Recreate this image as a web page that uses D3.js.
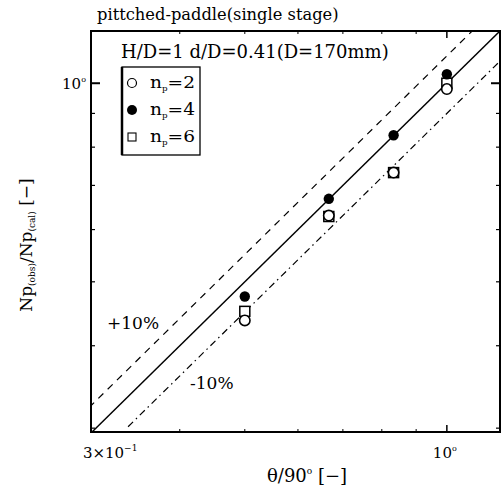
<!DOCTYPE html>
<html><head><meta charset="utf-8">
<script src="https://cdn.jsdelivr.net/npm/d3@7"></script>
<style>body{margin:0;background:#fff}svg{display:block}</style>
</head><body><div id="chart"></div>
<script>
// ---- data ----
const thetaRatio = [0.5, 0.667, 0.833, 1.0];            // θ/90°
const np2 = [0.437, 0.630, 0.732, 0.980];                // open circle
const np4 = [0.475, 0.668, 0.834, 1.032];                // filled circle
const np6 = [0.451, 0.628, 0.732, 1.000];                // open square
const seriesNames = ["2", "4", "6"];
const xTickMinor = [0.4, 0.5, 0.6, 0.7, 0.8, 0.9];
const yTickMinor = [0.3, 0.4, 0.5, 0.6, 0.7, 0.8, 0.9];
const majorTicks = [1];
const bandFactors = [1.1, 0.9];

const FONT = "DejaVu Serif";
const W = 504, H = 490;
const m = {l: 91, r: 4, t: 31, b: 58};
const svg = d3.select("#chart").append("svg").attr("width", W).attr("height", H)
  .attr("font-family", FONT);

const x = d3.scaleLog().domain([0.295, 1.2]).range([m.l, W - m.r]);
const y = d3.scaleLog().domain([0.296, 1.2]).range([H - m.b, m.t]);
const [x0, x1] = x.range(), [y0, y1] = y.range();

svg.append("defs").append("clipPath").attr("id", "clip")
  .append("rect").attr("x", x0).attr("y", y1).attr("width", x1 - x0).attr("height", y0 - y1);

function txt(xp, yp, size) {
  return svg.append("text").attr("x", xp).attr("y", yp).attr("font-size", size)
    .attr("font-family", FONT).attr("fill", "#000");
}

// ticks
const g = svg.append("g");
function tick(x1_, y1_, x2_, y2_, w) {
  g.append("line").attr("x1", x1_).attr("y1", y1_).attr("x2", x2_).attr("y2", y2_)
    .attr("stroke", "#000").attr("stroke-width", w);
}
yTickMinor.forEach(v => { tick(x0, y(v), x0 + 4, y(v), 1.2); tick(x1, y(v), x1 - 4, y(v), 1.2); });
majorTicks.forEach(v => { tick(x0, y(v), x0 + 9, y(v), 2); tick(x1, y(v), x1 - 9, y(v), 2); });
xTickMinor.forEach(v => { tick(x(v), y0, x(v), y0 - 3, 1); tick(x(v), y1, x(v), y1 + 3, 1); });
majorTicks.forEach(v => { tick(x(v), y0, x(v), y0 - 7, 1.5); tick(x(v), y1, x(v), y1 + 7, 1.5); });

// frame
svg.append("rect").attr("x", x0).attr("y", y1).attr("width", x1 - x0).attr("height", y0 - y1)
  .attr("fill", "none").attr("stroke", "#000").attr("stroke-width", 2);

// reference lines
const lg = svg.append("g").attr("clip-path", "url(#clip)");
const ext = [0.25, 1.4];
const line = d3.line().x(d => x(d[0])).y(d => y(d[1]));
lg.append("path").attr("d", line(ext.map(v => [v, v]))).attr("stroke", "#000").attr("stroke-width", 1.5).attr("fill", "none");
lg.append("path").attr("d", line(ext.map(v => [v, v * bandFactors[0]])))
  .attr("stroke", "#000").attr("stroke-width", 1.2).attr("fill", "none").attr("stroke-dasharray", "7,6");
lg.append("path").attr("d", line([[0.335, 0.335 * bandFactors[1]], [1.4, 1.4 * bandFactors[1]]]))
  .attr("stroke", "#000").attr("stroke-width", 1.2).attr("fill", "none").attr("stroke-dasharray", "7,4,1.5,4");

// data markers
const pg = svg.append("g");
thetaRatio.forEach((t, i) => {
  pg.append("rect").attr("x", x(t) - 5).attr("y", y(np6[i]) - 5).attr("width", 10).attr("height", 10)
    .attr("fill", "#fff").attr("stroke", "#000").attr("stroke-width", 1.5);
});
thetaRatio.forEach((t, i) => {
  pg.append("circle").attr("cx", x(t)).attr("cy", y(np2[i])).attr("r", 5.2)
    .attr("fill", "#fff").attr("stroke", "#000").attr("stroke-width", 1.6);
});
thetaRatio.forEach((t, i) => {
  pg.append("circle").attr("cx", x(t)).attr("cy", y(np4[i])).attr("r", 5.2).attr("fill", "#000");
});

// tick labels
const yl = txt(x0 - 5, y(1) + 6, 15).attr("text-anchor", "end");
yl.append("tspan").text("10");
yl.append("tspan").attr("dy", -7).attr("font-size", 8).text("o");
const xl0 = txt(x(0.3) - 13, y0 + 26, 15);
xl0.append("tspan").text("3×10");
xl0.append("tspan").attr("dy", -7).attr("font-size", 9).text("−1");
const xl1 = txt(x(1) - 14, y0 + 26, 15);
xl1.append("tspan").text("10");
xl1.append("tspan").attr("dy", -7).attr("font-size", 8).text("o");

// axis titles
const xt = txt(267, 482, 18);
xt.append("tspan").text("θ/90");
xt.append("tspan").attr("dy", -8).attr("font-size", 9).text("o");
xt.append("tspan").attr("dy", 8).text(" [−]");
const yt = svg.append("text").attr("transform", "translate(32,245) rotate(-90)").attr("text-anchor", "middle")
  .attr("font-size", 17).attr("font-family", FONT).attr("fill", "#000");
yt.append("tspan").text("Np");
yt.append("tspan").attr("dy", 3).attr("font-size", 9).text("(obs)");
yt.append("tspan").attr("dy", -3).text("/Np");
yt.append("tspan").attr("dy", 3).attr("font-size", 9).text("(cal)");
yt.append("tspan").attr("dy", -3).text(" [−]");

// title & annotations
txt(97, 20, 16.3).text("pittched-paddle(single stage)");
txt(121, 58, 18).text("H/D=1 d/D=0.41(D=170mm)");
txt(107, 329, 17).text("+10%");
txt(190, 389, 17).text("-10%");

// legend
const lgX = 122, lgY = 67, lgW = 78, lgH = 88;
svg.append("rect").attr("x", lgX).attr("y", lgY).attr("width", lgW).attr("height", lgH)
  .attr("fill", "#fff").attr("stroke", "#000").attr("stroke-width", 1.3);
svg.append("line").attr("x1", lgX).attr("y1", lgY).attr("x2", lgX).attr("y2", lgY + lgH).attr("stroke", "#000").attr("stroke-width", 2.5);
seriesNames.forEach((n, i) => {
  const cy = lgY + 16 + i * 27;
  if (i === 0) svg.append("circle").attr("cx", lgX + 10).attr("cy", cy).attr("r", 4.5).attr("fill", "#fff").attr("stroke", "#000").attr("stroke-width", 1.2);
  if (i === 1) svg.append("circle").attr("cx", lgX + 10).attr("cy", cy).attr("r", 5).attr("fill", "#000");
  if (i === 2) svg.append("rect").attr("x", lgX + 6).attr("y", cy - 4).attr("width", 8).attr("height", 8).attr("fill", "#fff").attr("stroke", "#000").attr("stroke-width", 1.1);
  const t = txt(lgX + 28, cy + 5, 17).attr("textLength", 45).attr("lengthAdjust", "spacingAndGlyphs");
  t.append("tspan").text("n");
  t.append("tspan").attr("dy", 3).attr("font-size", 8).text("p");
  t.append("tspan").attr("dy", -3).text("=" + n);
});
</script></body></html>
